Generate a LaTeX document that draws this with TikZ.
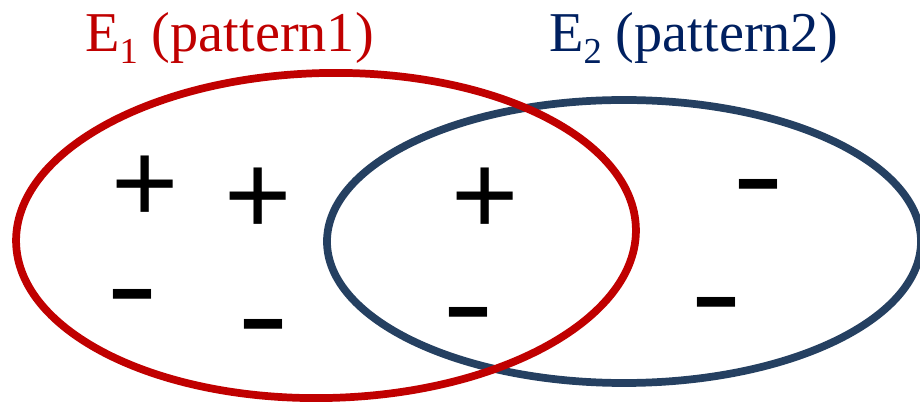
\documentclass[tikz,border=0pt]{standalone}
\usepackage{fontspec}
\setmainfont{Liberation Serif}
\newfontfamily\signfont{Liberation Sans}
\usetikzlibrary{positioning}
\definecolor{setred}{HTML}{C00000}
\definecolor{setblue}{HTML}{254061}
\definecolor{labblue}{HTML}{002060}
\newcommand{\lowidx}[1]{\raisebox{-8pt}{\fontsize{26}{26}\selectfont #1}}

\begin{document}
\begin{tikzpicture}[x=0.025cm, y=-0.025cm,
  ring/.style={line width=5.5pt, draw=#1},
  lab/.style={anchor=base, inner sep=0pt, text=#1, font=\fontsize{40}{48}\selectfont},
  pl/.style={anchor=base, inner sep=0pt, text height=48pt, text depth=0pt, font=\signfont\fontsize{82}{90}\selectfont},
  mn/.style={anchor=base, inner sep=0pt, text height=29pt, text depth=0pt, font=\signfont\fontsize{111}{120}\selectfont}]
\useasboundingbox (0,0) rectangle (920,405);
\draw[ring=setblue] (624,241.5) ellipse [x radius=297, y radius=141.5];
\draw[ring=setred, rotate around={1.3:(326,235.5)}] (326,235.5) ellipse [x radius=310, y radius=162.5];
\node[lab=setred] (e1) at (229.5,52) {E\lowidx{1} (pattern1)};
\node[lab=labblue] (e2) at (693.5,52) {E\lowidx{2} (pattern2)};
% signs: base line sits below the glyph centre
\foreach \nm/\px/\py in {p1/145/182, p2/258/194, p3/485/194}
  \node[pl] (\nm) at (\px,\py+41) {+};
\foreach \nm/\px/\py in {m1/132/293, m2/263/323, m3/468/311, m4/716/301, m5/758/183}
  \node[mn] (\nm) at (\px,\py+34.5) {\scalebox{1}[0.8]{-}};
\end{tikzpicture}
\end{document}
